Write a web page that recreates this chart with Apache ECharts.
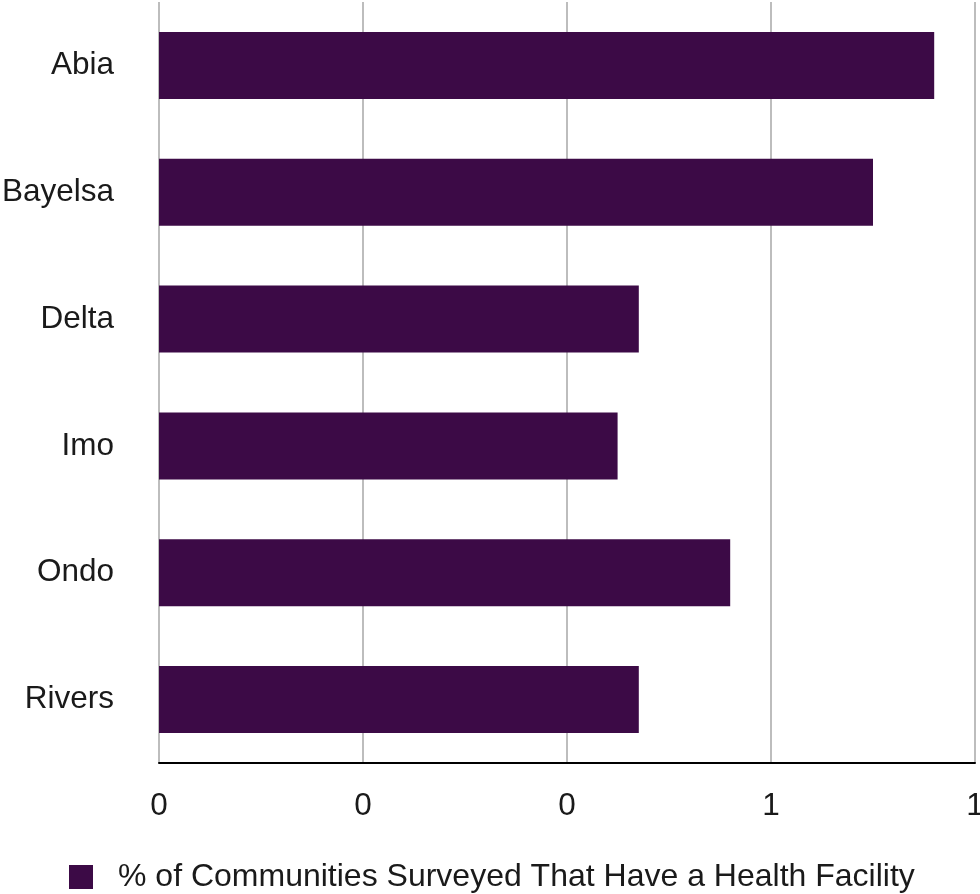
<!DOCTYPE html>
<html>
<head>
<meta charset="utf-8">
<script src="https://cdn.jsdelivr.net/npm/echarts@6/dist/echarts.min.js"></script>
<style>html,body{margin:0;padding:0;background:#fff}#c{width:980px;height:894px}</style>
</head>
<body>
<div id="c"></div>
<script>
const categories = ['Abia', 'Bayelsa', 'Delta', 'Imo', 'Ondo', 'Rivers'];
const seriesName = '% of Communities Surveyed That Have a Health Facility';
const values = [0.95, 0.875, 0.588, 0.562, 0.70, 0.588];
const tickLabels = ['0', '0', '0', '1', '1'];

const chart = echarts.init(document.getElementById('c'));
const font = 'Liberation Sans, Arial, Helvetica, sans-serif';
chart.setOption({
  animation: false,
  grid: { left: 159, right: 5, top: 2, bottom: 131, containLabel: false, outerBoundsMode: 'none' },
  legend: {
    left: 69, top: 861, padding: 0,
    itemWidth: 24, itemHeight: 24, icon: 'rect',
    textStyle: { fontFamily: font, fontSize: 32, color: '#1a1a1a', padding: [0, 0, 0, 20] },
    data: [seriesName]
  },
  xAxis: {
    type: 'value', min: 0, max: 1, interval: 0.25,
    axisLine: { show: true, lineStyle: { color: '#000', width: 2 } },
    axisTick: { show: false },
    splitLine: { show: true, lineStyle: { color: '#bdbdbd', width: 2 } },
    axisLabel: {
      fontFamily: font, fontSize: 31.5, color: '#1a1a1a', margin: 27,
      formatter: function (v) { return tickLabels[Math.round(v / 0.25)]; }
    }
  },
  yAxis: {
    type: 'category', data: categories, inverse: true,
    axisLine: { show: false }, axisTick: { show: false },
    axisLabel: { fontFamily: font, fontSize: 31.5, color: '#1a1a1a', margin: 45, padding: [14, 0, 0, 0] }
  },
  series: [{
    name: seriesName, type: 'bar', data: values, barWidth: 67,
    itemStyle: { color: '#3c0a46' }
  }]
});
</script>
</body>
</html>
